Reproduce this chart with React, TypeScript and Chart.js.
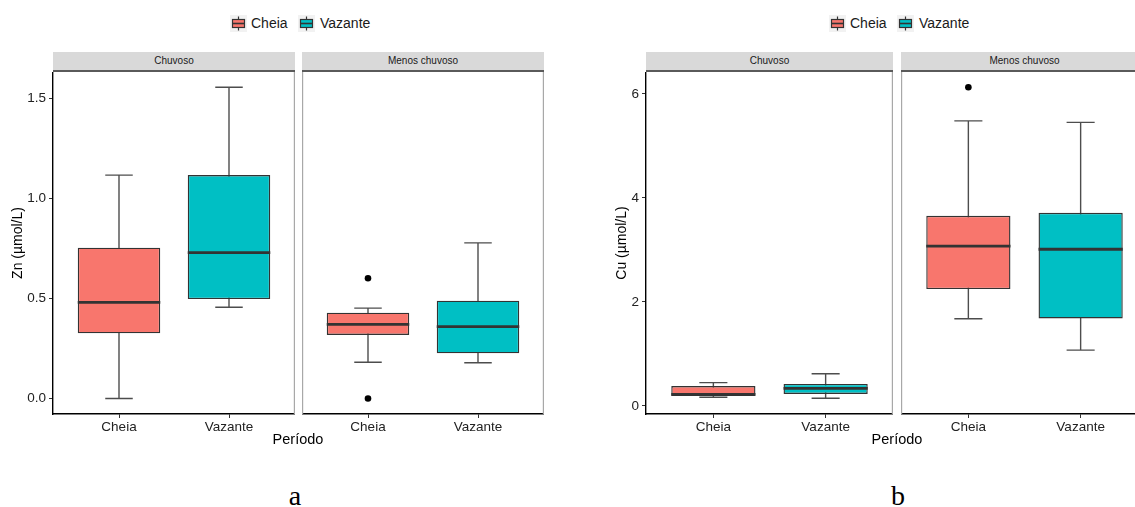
import React, { useEffect, useRef } from 'react';
import { Chart, registerables } from 'chart.js';

Chart.register(...registerables);

const categories = ['Cheia', 'Vazante'];
const facets = ['Chuvoso', 'Menos chuvoso'];
const seriesColors = ['#F8766D', '#00BFC4'];

// [lower whisker, Q1, median, Q3, upper whisker]
const znChuvosoCheia = [0.0, 0.326, 0.481, 0.754, 1.117];
const znChuvosoVazante = [0.456, 0.497, 0.729, 1.117, 1.556];
const znMenosCheia = [0.181, 0.318, 0.371, 0.429, 0.452];
const znMenosVazante = [0.179, 0.226, 0.359, 0.489, 0.778];
const znMenosCheiaOutliers = [0.601, 0.0];

const cuChuvosoCheia = [0.163, 0.19, 0.22, 0.38, 0.445];
const cuChuvosoVazante = [0.144, 0.227, 0.336, 0.42, 0.617];
const cuMenosCheia = [1.675, 2.245, 3.07, 3.655, 5.48];
const cuMenosVazante = [1.07, 1.68, 3.01, 3.71, 5.45];
const cuMenosCheiaOutliers = [6.125];

const znTicks = [0, 0.5, 1.0, 1.5];
const cuTicks = [0, 2, 4, 6];
const znRange = [-0.0775, 1.6325];
const cuRange = [-0.158, 6.419];

const FONT = "'Liberation Sans', Arial, Helvetica, sans-serif";
const PLOT_TOP = 72;
const PLOT_H = 342;
const XAXIS_H = 34;

const boxPlugin = {
  id: 'boxWhiskers',
  beforeDatasetsDraw(chart: any) {
    const ctx = chart.ctx;
    const ys = chart.scales.y;
    const xs = chart.scales.x;
    chart.data.datasets.forEach((ds: any, di: number) => {
      if (!ds.stats) return;
      const el = chart.getDatasetMeta(di).data[0];
      if (!el) return;
      const cx = el.x;
      const s = ds.stats;
      const capHalf = xs.getPixelForValue(ds.data[0].x + 0.125) - cx;
      ctx.save();
      ctx.strokeStyle = '#4d4d4d';
      ctx.lineWidth = 1.4;
      ctx.beginPath();
      ctx.moveTo(cx, ys.getPixelForValue(s[0]));
      ctx.lineTo(cx, ys.getPixelForValue(s[4]));
      for (const v of [s[0], s[4]]) {
        const py = ys.getPixelForValue(v);
        ctx.moveTo(cx - capHalf, py);
        ctx.lineTo(cx + capHalf, py);
      }
      ctx.stroke();
      ctx.restore();
    });
  },
  afterDatasetsDraw(chart: any) {
    const ctx = chart.ctx;
    const ys = chart.scales.y;
    chart.data.datasets.forEach((ds: any, di: number) => {
      if (!ds.stats) return;
      const el = chart.getDatasetMeta(di).data[0];
      if (!el) return;
      const half = el.width / 2;
      const py = ys.getPixelForValue(ds.stats[2]);
      ctx.save();
      ctx.strokeStyle = '#333333';
      ctx.lineWidth = 2.8;
      ctx.beginPath();
      ctx.moveTo(el.x - half, py);
      ctx.lineTo(el.x + half, py);
      ctx.stroke();
      ctx.restore();
    });
  },
};

type FacetProps = {
  stats: number[][];
  outliers: number[][];
  range: number[];
  yTicks: number[];
  fmt: (v: number) => string;
  showY: boolean;
  yTitle?: string;
  canvasLeft: number;
  plotLeft: number;
  plotWidth: number;
};

function Facet(p: FacetProps) {
  const ref = useRef<HTMLCanvasElement>(null);
  const axisW = p.plotLeft - p.canvasLeft;
  const w = axisW + p.plotWidth;
  const h = PLOT_H + XAXIS_H;

  useEffect(() => {
    const datasets: any[] = categories.map((c, i) => ({
      type: 'bar',
      label: c,
      data: [{ x: i + 1, y: [p.stats[i][1], p.stats[i][3]] }],
      stats: p.stats[i],
      backgroundColor: seriesColors[i],
      borderColor: '#333333',
      borderWidth: 1.4,
      borderSkipped: false,
      grouped: false,
      barPercentage: 0.75,
      categoryPercentage: 1,
    }));
    const outData: any[] = [];
    p.outliers.forEach((arr, i) => arr.forEach((v) => outData.push({ x: i + 1, y: v })));
    if (outData.length) {
      datasets.push({
        type: 'scatter',
        label: 'outliers',
        data: outData,
        pointRadius: 3.3,
        backgroundColor: '#000000',
        borderWidth: 0,
        clip: false,
      });
    }

    const framePlugin = {
      id: 'frame',
      afterDraw(chart: any) {
        const { left, right, top, bottom } = chart.chartArea;
        const ctx = chart.ctx;
        ctx.save();
        ctx.strokeStyle = '#a8a8a8';
        ctx.lineWidth = 1.2;
        ctx.beginPath();
        ctx.moveTo(right - 0.6, top);
        ctx.lineTo(right - 0.6, bottom);
        if (!p.showY) {
          ctx.moveTo(left + 0.6, top);
          ctx.lineTo(left + 0.6, bottom);
        }
        ctx.stroke();
        ctx.restore();
      },
    };

    const chart = new Chart(ref.current as HTMLCanvasElement, {
      type: 'bar',
      data: { datasets },
      plugins: [boxPlugin, framePlugin],
      options: {
        responsive: false,
        animation: false,
        devicePixelRatio: 1,
        layout: { padding: 0, autoPadding: false },
        plugins: { legend: { display: false }, tooltip: { enabled: false } },
        scales: {
          x: {
            type: 'linear',
            min: 0.4,
            max: 2.6,
            offset: false,
            afterBuildTicks: (s: any) => {
              s.ticks = categories.map((_, i) => ({ value: i + 1 }));
            },
            ticks: {
              callback: (v: any) => categories[Math.round(Number(v)) - 1],
              color: '#222222',
              font: { family: FONT, size: 13.5 },
              padding: 1,
              autoSkip: false,
              maxRotation: 0,
            },
            grid: { drawOnChartArea: false, drawTicks: true, tickLength: 4, color: '#333333', offset: false },
            border: { display: true, color: '#000000', width: 1.4 },
            afterFit: (s: any) => {
              s.height = XAXIS_H;
              s.paddingLeft = 0;
              s.paddingRight = 0;
            },
          },
          y: {
            type: 'linear',
            min: p.range[0],
            max: p.range[1],
            display: p.showY,
            afterBuildTicks: (s: any) => {
              s.ticks = p.yTicks.map((v) => ({ value: v }));
            },
            ticks: {
              callback: (v: any) => p.fmt(Number(v)),
              color: '#222222',
              font: { family: FONT, size: 13.5 },
              padding: 3,
            },
            grid: { drawOnChartArea: false, drawTicks: true, tickLength: 4, color: '#333333' },
            border: { display: true, color: '#000000', width: 1.4 },
            title: {
              display: !!p.yTitle,
              text: p.yTitle || '',
              color: '#000000',
              font: { family: FONT, size: 14 },
              padding: { top: 9.6, bottom: 0 },
            },
            afterFit: (s: any) => {
              s.width = axisW;
              s.paddingTop = 0;
              s.paddingBottom = 0;
            },
          },
        },
      } as any,
    });
    return () => chart.destroy();
  }, []);

  return (
    <canvas
      ref={ref}
      width={w}
      height={h}
      style={{ position: 'absolute', left: p.canvasLeft, top: PLOT_TOP, width: w, height: h }}
    />
  );
}

function Strip({ left, width, text }: { left: number; width: number; text: string }) {
  return (
    <div
      style={{
        position: 'absolute',
        left,
        top: 52,
        width,
        height: 18,
        background: '#d9d9d9',
        borderBottom: '2px solid #5a5a5a',
        fontFamily: FONT,
        fontSize: 10,
        color: '#1a1a1a',
        textAlign: 'center',
        lineHeight: '18px',
      }}
    >
      {text}
    </div>
  );
}

function LegendKey({ color, left }: { color: string; left: number }) {
  return (
    <svg width={17} height={17} style={{ position: 'absolute', left, top: 15 }}>
      <rect x={0} y={0} width={17} height={17} fill="#f2f2f2" />
      <line x1={8.5} y1={1.5} x2={8.5} y2={15.5} stroke="#333" strokeWidth={1.2} />
      <rect x={2.5} y={4.5} width={12} height={8} fill={color} stroke="#333" strokeWidth={1.2} />
      <line x1={2.5} y1={8.5} x2={14.5} y2={8.5} stroke="#333" strokeWidth={1.6} />
    </svg>
  );
}

function Legend({ left }: { left: number }) {
  const txt = (x: number, t: string) => (
    <div
      style={{
        position: 'absolute',
        left: x,
        top: 15,
        height: 17,
        lineHeight: '17px',
        fontFamily: FONT,
        fontSize: 14,
        color: '#1a1a1a',
        whiteSpace: 'nowrap',
      }}
    >
      {t}
    </div>
  );
  return (
    <>
      <LegendKey color={seriesColors[0]} left={left} />
      {txt(left + 21, categories[0])}
      <LegendKey color={seriesColors[1]} left={left + 68} />
      {txt(left + 90, categories[1])}
    </>
  );
}

function CenterText({ cx, top, text, size, family }: { cx: number; top: number; text: string; size: number; family: string }) {
  return (
    <div
      style={{
        position: 'absolute',
        left: cx - 100,
        width: 200,
        top,
        textAlign: 'center',
        fontFamily: family,
        fontSize: size,
        lineHeight: `${size}px`,
        color: '#000',
      }}
    >
      {text}
    </div>
  );
}

const fmtZn = (v: number) => v.toFixed(1);
const fmtCu = (v: number) => String(Math.round(v));

export default function App() {
  return (
    <div
      style={{
        position: 'absolute',
        left: 0,
        top: 0,
        width: 1135,
        height: 507,
        overflow: 'hidden',
        background: '#ffffff',
      }}
    >
      <Legend left={230} />
      <Legend left={829} />

      <Strip left={53} width={242} text={facets[0]} />
      <Strip left={302} width={242} text={facets[1]} />
      <Strip left={646} width={247} text={facets[0]} />
      <Strip left={901} width={247} text={facets[1]} />

      <Facet
        stats={[znChuvosoCheia, znChuvosoVazante]}
        outliers={[[], []]}
        range={znRange}
        yTicks={znTicks}
        fmt={fmtZn}
        showY={true}
        yTitle="Zn (µmol/L)"
        canvasLeft={0}
        plotLeft={53}
        plotWidth={242}
      />
      <Facet
        stats={[znMenosCheia, znMenosVazante]}
        outliers={[znMenosCheiaOutliers, []]}
        range={znRange}
        yTicks={znTicks}
        fmt={fmtZn}
        showY={false}
        canvasLeft={302}
        plotLeft={302}
        plotWidth={242}
      />
      <Facet
        stats={[cuChuvosoCheia, cuChuvosoVazante]}
        outliers={[[], []]}
        range={cuRange}
        yTicks={cuTicks}
        fmt={fmtCu}
        showY={true}
        yTitle="Cu (µmol/L)"
        canvasLeft={604}
        plotLeft={646}
        plotWidth={247}
      />
      <Facet
        stats={[cuMenosCheia, cuMenosVazante]}
        outliers={[cuMenosCheiaOutliers, []]}
        range={cuRange}
        yTicks={cuTicks}
        fmt={fmtCu}
        showY={false}
        canvasLeft={901}
        plotLeft={901}
        plotWidth={247}
      />

      <CenterText cx={298} top={432} text="Período" size={14.5} family={FONT} />
      <CenterText cx={897} top={432} text="Período" size={14.5} family={FONT} />

      <CenterText cx={295} top={482} text="a" size={28} family="'Liberation Serif', 'Times New Roman', serif" />
      <CenterText cx={898} top={482} text="b" size={28} family="'Liberation Serif', 'Times New Roman', serif" />
    </div>
  );
}
